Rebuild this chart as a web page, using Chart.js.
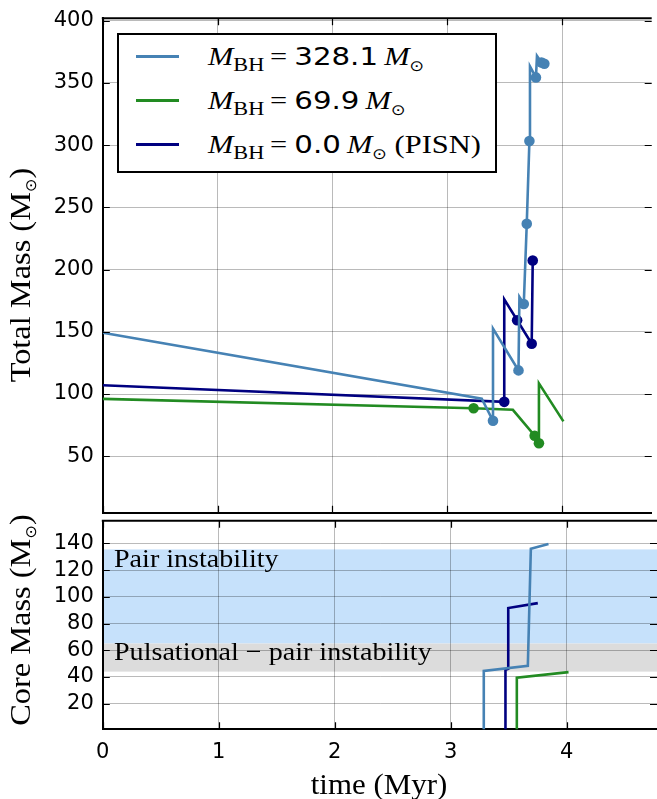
<!DOCTYPE html>
<html>
<head>
<meta charset="utf-8">
<script src="https://cdn.jsdelivr.net/npm/chart.js@4.4.1/dist/chart.umd.min.js"></script>
<style>
  body { margin: 0; background: #fff; }
  #wrap { position: relative; width: 657px; height: 799px; overflow: hidden; background: #fff; }
  canvas { position: absolute; left: 0; }
  .serif { font-family: 'Liberation Serif', 'Times New Roman', serif; color: #000; white-space: nowrap; }
  .lbl { position: absolute; font-size: 26px; line-height: 26px; transform: scaleX(1.08); transform-origin: left center; }
  .ytitle { position: absolute; font-size: 30px; line-height: 30px; transform: translate(-50%, -50%) rotate(-90deg) scaleX(1.08); }
  .xtitle { position: absolute; font-size: 30px; line-height: 30px; transform: translate(-50%, -50%) scaleX(1.03); }
  .sub { font-family: 'DejaVu Sans', sans-serif; font-size: 15px; position: relative; top: 6px; }
  #legend { position: absolute; left: 117px; top: 33px; width: 380px; height: 140px; box-sizing: border-box; border: 2px solid #000; background: #fff; }
  .row { position: absolute; left: 0; height: 30px; line-height: 30px; width: 100%; }
  .swatch { position: absolute; left: 17px; top: 13px; width: 43px; height: 3px; }
  .txt { position: absolute; left: 89px; top: 0; font-size: 26px; transform: scaleX(1.17); transform-origin: left center; }
  .mi { font-style: italic; }
  .bh { font-size: 19px; position: relative; top: 6px; }
  .eq { margin: 0 6px 0 5px; }
  .num { font-family: 'DejaVu Sans', sans-serif; font-size: 25px; }
</style>
</head>
<body>
<div id="wrap">
  <canvas id="totalMass" width="657" height="518" style="top:0"></canvas>
  <canvas id="coreMass" width="657" height="281" style="top:518px"></canvas>
</div>
<script>
// axis ticks
const timeTicks = [0, 1, 2, 3, 4];
const totalMassTicks = [50, 100, 150, 200, 250, 300, 350, 400];
const coreMassTicks = [20, 40, 60, 80, 100, 120, 140];

// series names (remnant black hole mass)
const seriesNames = ['328.1', '69.9', '0.0'];

// total mass tracks (time in Myr, mass in Msun)
const blueTime = [0, 3.300, 3.398, 3.398, 3.620, 3.628, 3.666, 3.692, 3.715, 3.720, 3.772, 3.781, 3.820, 3.845];
const blueMass = [149.2, 96.2, 78.5, 152.6, 119.0, 178.0, 172.4, 236.9, 303.3, 363.3, 354.5, 371.8, 366.5, 365.5];
const blueMarkTime = [3.398, 3.620, 3.666, 3.692, 3.715, 3.772, 3.820, 3.845];
const blueMarkMass = [78.5, 119.0, 172.4, 236.9, 303.3, 354.5, 366.5, 365.5];

const greenTime = [0, 3.229, 3.571, 3.761, 3.798, 3.798, 4.011];
const greenMass = [96.1, 88.6, 87.3, 66.5, 60.4, 108.6, 78.0];
const greenMarkTime = [3.229, 3.761, 3.798];
const greenMarkMass = [88.6, 66.5, 60.4];

const navyTime = [0, 3.496, 3.496, 3.735, 3.744];
const navyMass = [107.0, 93.7, 176.1, 140.4, 207.3];
const navyMarkTime = [3.496, 3.608, 3.735, 3.744];
const navyMarkMass = [93.7, 159.3, 140.4, 207.3];

// core mass tracks
const blueCoreTime = [3.286, 3.286, 3.666, 3.692, 3.844];
const blueCoreMass = [0, 44.5, 48.3, 136.0, 139.6];
const greenCoreTime = [3.571, 3.571, 4.017];
const greenCoreMass = [0, 39.5, 43.6];
const navyCoreTime = [3.473, 3.473, 3.497, 3.497, 3.752];
const navyCoreMass = [0, 45.3, 46.0, 91.6, 95.3];

// instability regions (core mass, Msun)
const pairInstability = [65, 135.5];
const pulsationalPair = [44, 65];

const BLUE = '#4682b4', GREEN = '#228b22', NAVY = '#000080';
const GRID = 'rgba(0,0,0,0.27)';
const tickFont = { family: 'DejaVu Sans', size: 21 };

const pts = (xs, ys) => xs.map((x, i) => ({ x: x, y: ys[i] }));
const fixTicks = vals => s => { s.ticks = vals.map(v => ({ value: v })); };

const line = (xs, ys, c) => ({ data: pts(xs, ys), borderColor: c, backgroundColor: c, showLine: true, borderWidth: 2.6, pointRadius: 0, tension: 0 });
const marks = (xs, ys, c) => ({ data: pts(xs, ys), borderColor: c, backgroundColor: c, showLine: false, pointRadius: 5.3, pointHoverRadius: 5.3, borderWidth: 0 });

// draws the bands, the top spine and the inward ticks
const frame = {
  id: 'frame',
  beforeDraw(chart, args, opts) {
    const { ctx, chartArea: a, scales: { y } } = chart;
    (opts.bands || []).forEach(b => {
      const y1 = y.getPixelForValue(b.range[1]), y0 = y.getPixelForValue(b.range[0]);
      ctx.save();
      ctx.fillStyle = b.color;
      ctx.fillRect(a.left, y1, a.right - a.left, y0 - y1);
      ctx.restore();
    });
  },
  afterDraw(chart) {
    const { ctx, chartArea: a, scales: { x, y } } = chart;
    ctx.save();
    ctx.strokeStyle = '#000';
    ctx.lineWidth = 2;
    ctx.beginPath();
    ctx.moveTo(a.left - 1, a.top);
    ctx.lineTo(a.right, a.top);
    ctx.stroke();
    ctx.lineWidth = 1.2;
    ctx.beginPath();
    y.ticks.forEach(t => {
      const p = Math.round(y.getPixelForValue(t.value)) + 0.5;
      ctx.moveTo(a.left, p); ctx.lineTo(a.left + 7, p);
      ctx.moveTo(a.right, p); ctx.lineTo(a.right - 7, p);
    });
    x.ticks.forEach(t => {
      const p = Math.round(x.getPixelForValue(t.value)) + 0.5;
      ctx.moveTo(p, a.bottom); ctx.lineTo(p, a.bottom - 7);
      ctx.moveTo(p, a.top); ctx.lineTo(p, a.top + 7);
    });
    ctx.stroke();
    ctx.restore();
  }
};

function makeChart(id, datasets, cfg) {
  return new Chart(document.getElementById(id), {
    type: 'scatter',
    data: { datasets: datasets },
    plugins: [frame],
    options: {
      responsive: false,
      animation: false,
      events: [],
      layout: { padding: { top: cfg.padTop, left: 0, right: 0, bottom: 0 } },
      plugins: { legend: { display: false }, tooltip: { enabled: false }, frame: { bands: cfg.bands || [] } },
      scales: {
        x: {
          type: 'linear', min: 0, max: 4.78,
          afterBuildTicks: fixTicks(timeTicks),
          ticks: { display: cfg.xLabels, font: tickFont, color: '#000', padding: 11, maxRotation: 0 },
          grid: { color: GRID, lineWidth: 1, drawTicks: false },
          border: { color: '#000', width: 2 },
          afterFit: s => { s.height = cfg.xHeight; s.paddingLeft = 0; s.paddingRight = 0; }
        },
        y: {
          type: 'linear', min: cfg.yMin, max: cfg.yMax,
          afterBuildTicks: fixTicks(cfg.yTicks),
          ticks: { font: tickFont, color: '#000', padding: 9 },
          grid: { color: GRID, lineWidth: 1, drawTicks: false },
          border: { color: '#000', width: 2 },
          afterFit: s => { s.width = 102.8; s.paddingTop = 0; s.paddingBottom = 0; }
        }
      }
    }
  });
}

makeChart('totalMass', [
  line(blueTime, blueMass, BLUE),
  line(greenTime, greenMass, GREEN),
  line(navyTime, navyMass, NAVY),
  marks(blueMarkTime, blueMarkMass, BLUE),
  marks(greenMarkTime, greenMarkMass, GREEN),
  marks(navyMarkTime, navyMarkMass, NAVY)
], { padTop: 18.3, xHeight: 3, xLabels: false, yMin: 4.6, yMax: 402, yTicks: totalMassTicks });

makeChart('coreMass', [
  line(blueCoreTime, blueCoreMass, BLUE),
  line(greenCoreTime, greenCoreMass, GREEN),
  line(navyCoreTime, navyCoreMass, NAVY)
], {
  padTop: 2.7, xHeight: 69.7, xLabels: true, yMin: 0.8, yMax: 157, yTicks: coreMassTicks,
  bands: [
    { range: pairInstability, color: '#c6e1fb' },
    { range: pulsationalPair, color: '#dcdcdc' }
  ]
});

// text overlays: legend, band labels, axis titles
const wrap = document.getElementById('wrap');
const legend = document.createElement('div');
legend.id = 'legend';
const legendColors = [BLUE, GREEN, NAVY];
seriesNames.forEach((n, i) => {
  const row = document.createElement('div');
  row.className = 'row';
  row.style.top = (7 + i * 44) + 'px';
  row.innerHTML = '<div class="swatch" style="background:' + legendColors[i] + '"></div>' +
    '<div class="txt serif"><span class="mi">M</span><span class="bh">BH</span><span class="eq">=</span>' +
    '<span class="num">' + n + '</span>&#8201;<span class="mi">M</span><span class="sub">⊙</span>' +
    (i === 2 ? ' (PISN)' : '') + '</div>';
  legend.appendChild(row);
});
wrap.appendChild(legend);

const addText = (cls, html, left, top) => {
  const d = document.createElement('div');
  d.className = cls + ' serif';
  d.innerHTML = html;
  d.style.left = left + 'px';
  d.style.top = top + 'px';
  wrap.appendChild(d);
};
addText('lbl', 'Pair instability', 114, 546);
addText('lbl', 'Pulsational − pair instability', 114, 639);
addText('ytitle', 'Total Mass (M<span class="sub">⊙</span>)', 22, 275);
addText('ytitle', 'Core Mass (M<span class="sub">⊙</span>)', 22, 620);
addText('xtitle', 'time (Myr)', 379, 784);
</script>
</body>
</html>
